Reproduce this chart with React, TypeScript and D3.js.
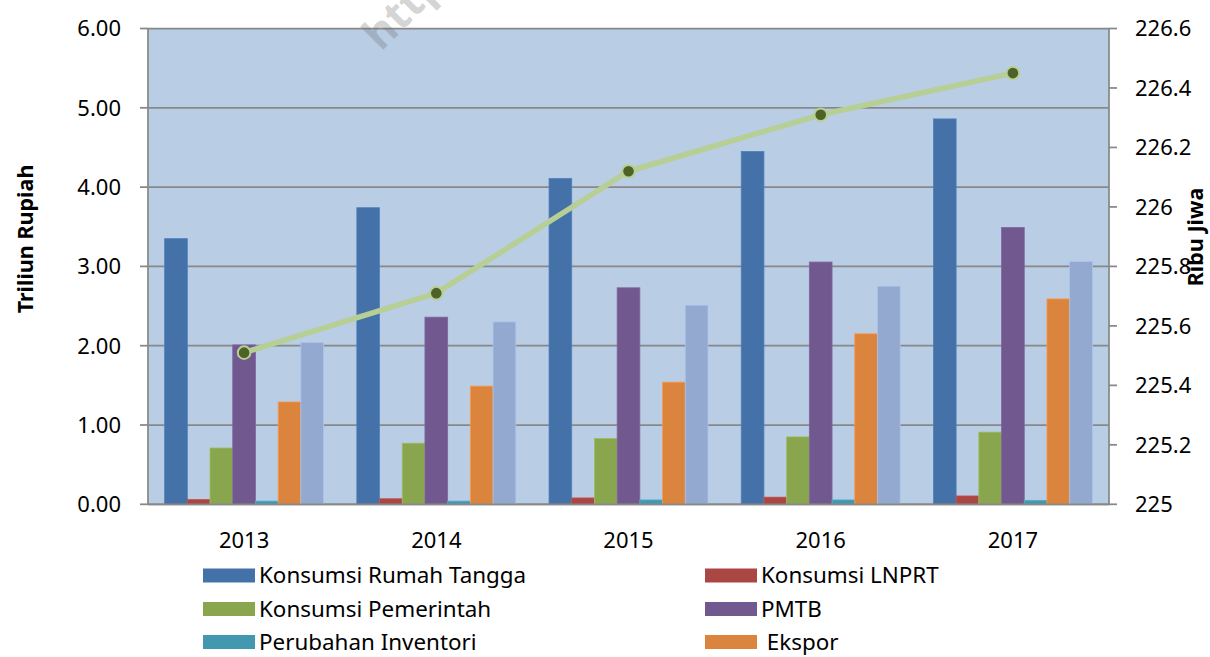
import React from 'react';
import * as d3 from 'd3';

const years = ['2013', '2014', '2015', '2016', '2017'];
const konsumsiRumahTangga = [3.35, 3.74, 4.11, 4.45, 4.86];
const konsumsiLNPRT = [0.06, 0.07, 0.08, 0.09, 0.105];
const konsumsiPemerintah = [0.71, 0.77, 0.83, 0.85, 0.91];
const pmtb = [2.01, 2.36, 2.73, 3.055, 3.49];
const perubahanInventori = [0.04, 0.04, 0.055, 0.055, 0.05];
const ekspor = [1.29, 1.49, 1.54, 2.15, 2.59];
const impor = [2.04, 2.3, 2.51, 2.75, 3.06];
const penduduk = [225.51, 225.71, 226.12, 226.31, 226.45];

const leftTicks = [0, 1, 2, 3, 4, 5, 6];
const rightTicks = [225, 225.2, 225.4, 225.6, 225.8, 226, 226.2, 226.4, 226.6];

const seriesNames = [
  'Konsumsi Rumah Tangga',
  'Konsumsi LNPRT',
  'Konsumsi Pemerintah',
  'PMTB',
  'Perubahan Inventori',
  ' Ekspor',
  'Impor',
];
const seriesValues = [
  konsumsiRumahTangga,
  konsumsiLNPRT,
  konsumsiPemerintah,
  pmtb,
  perubahanInventori,
  ekspor,
  impor,
];
const colors = ['#4471A7', '#AA4643', '#89A54E', '#71588F', '#4198AF', '#DB843D', '#93A9CF'];
const legendCount = 6;

const W = 1210;
const H = 657;
const plot = { left: 148, right: 1109, top: 28.5, bottom: 504.3 };
const FONT = '"Noto Sans", "Open Sans", sans-serif';

export default function App() {
  const x = d3
    .scaleBand<string>()
    .domain(years)
    .range([plot.left, plot.right])
    .paddingInner(0.173)
    .paddingOuter(0.0865);
  const xs = d3
    .scaleBand<number>()
    .domain(d3.range(seriesValues.length))
    .range([0, x.bandwidth()]);
  const y = d3.scaleLinear().domain([0, 6]).range([plot.bottom, plot.top]);
  const y2 = d3.scaleLinear().domain([225, 226.6]).range([plot.bottom, plot.top]);

  const cx = (yr: string) => (x(yr) as number) + x.bandwidth() / 2;
  const line = d3
    .line<number>()
    .x((_, i) => cx(years[i]))
    .y((d) => y2(d));

  const legendCols = [203, 705];
  const legendRows = [575.5, 609, 642];

  return (
    <svg
      width={W}
      height={H}
      style={{ position: 'absolute', left: 0, top: 0, background: '#fff' }}
      fontFamily={FONT}
    >
      <rect
        x={plot.left}
        y={plot.top}
        width={plot.right - plot.left}
        height={plot.bottom - plot.top}
        fill="#B9CDE5"
      />
      {leftTicks.map((t) => (
        <line
          key={'g' + t}
          x1={plot.left}
          x2={plot.right}
          y1={y(t)}
          y2={y(t)}
          stroke="#888888"
          strokeWidth={1.75}
        />
      ))}
      {seriesValues.map((vals, si) =>
        vals.map((v, i) => {
          const bx = (x(years[i]) as number) + (xs(si) as number);
          const c = d3.color(colors[si])!.brighter(0.4).formatHex();
          return (
            <rect
              key={si + '-' + i}
              x={bx}
              y={y(v)}
              width={xs.bandwidth()}
              height={plot.bottom - y(v)}
              fill={colors[si]}
              stroke={c}
              strokeWidth={0.8}
            />
          );
        })
      )}
      {/* axes */}
      <line x1={plot.left} x2={plot.left} y1={plot.top} y2={plot.bottom} stroke="#888888" strokeWidth={1.75} />
      <line x1={plot.right} x2={plot.right} y1={plot.top} y2={plot.bottom} stroke="#888888" strokeWidth={1.75} />
      <line x1={plot.left} x2={plot.right} y1={plot.bottom} y2={plot.bottom} stroke="#888888" strokeWidth={1.75} />
      {leftTicks.map((t) => (
        <g key={'lt' + t}>
          <line x1={plot.left - 8} x2={plot.left} y1={y(t)} y2={y(t)} stroke="#888888" strokeWidth={1.75} />
          <text x={121} y={y(t) + 7.8} textAnchor="end" fontSize={22} fill="#000">
            {t.toFixed(2)}
          </text>
        </g>
      ))}
      {rightTicks.map((t) => (
        <g key={'rt' + t}>
          <line x1={plot.right} x2={plot.right + 8} y1={y2(t)} y2={y2(t)} stroke="#888888" strokeWidth={1.75} />
          <text x={1135} y={y2(t) + 7.8} textAnchor="start" fontSize={22} fill="#000">
            {String(+t.toFixed(1))}
          </text>
        </g>
      ))}
      {years.map((yr) => (
        <text key={'x' + yr} x={cx(yr)} y={548} textAnchor="middle" fontSize={22} fill="#000">
          {yr}
        </text>
      ))}
      {/* line series */}
      <path d={line(penduduk) || ''} fill="none" stroke="#B7CF94" strokeWidth={5.5} strokeLinejoin="round" />
      {penduduk.map((v, i) => (
        <circle key={'p' + i} cx={cx(years[i])} cy={y2(v)} r={6.3} fill="#4E6127" stroke="#B7CF94" strokeWidth={2} />
      ))}
      {/* axis titles */}
      <text
        transform={`translate(33, 239) rotate(-90)`}
        textAnchor="middle"
        fontSize={21.5}
        fontWeight="bold"
        fill="#000"
      >
        Triliun Rupiah
      </text>
      <text
        transform={`translate(1203, 237) rotate(-90)`}
        textAnchor="middle"
        fontSize={21.5}
        fontWeight="bold"
        fill="#000"
      >
        Ribu Jiwa
      </text>
      {/* legend */}
      {seriesNames.slice(0, legendCount).map((name, i) => {
        const col = i % 2;
        const row = Math.floor(i / 2);
        const lx = legendCols[col];
        const ly = legendRows[row];
        return (
          <g key={'lg' + i}>
            <rect x={lx} y={ly - 7} width={52} height={14} fill={colors[i]} />
            <text x={lx + 56} y={ly + 7.6} fontSize={22.4} fill="#000" style={{ whiteSpace: 'pre' }}>
              {name}
            </text>
          </g>
        );
      })}
      {/* watermark */}
      <text
        transform="translate(381, 52) rotate(-45)"
        fontSize={43}
        fontWeight="bold"
        fill="#6a6a6a"
        fillOpacity={0.28}
      >
        https://www.bps.go.id
      </text>
    </svg>
  );
}
